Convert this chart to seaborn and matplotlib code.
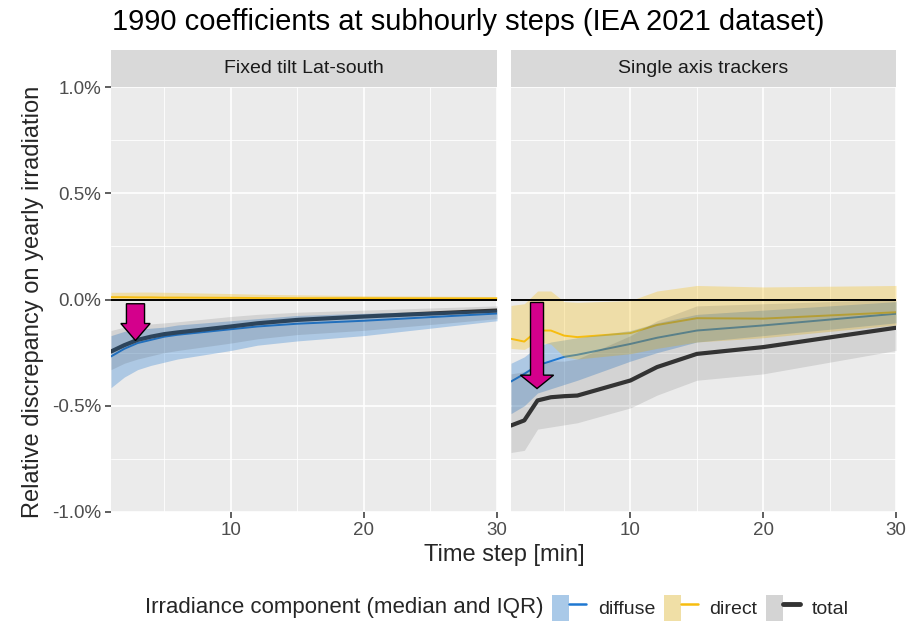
import numpy as np
import pandas as pd
import seaborn as sns
import matplotlib.pyplot as plt
from matplotlib.patches import Patch, FancyArrow
from matplotlib.lines import Line2D
from matplotlib.legend_handler import HandlerTuple

# time steps [min]
steps = [1, 2, 3, 4, 5, 6, 10, 12, 15, 20, 30]

# Fixed tilt Lat-south (values in %)
fix_diffuse = [-0.268, -0.232, -0.205, -0.19, -0.175, -0.166, -0.14, -0.127, -0.114, -0.1, -0.066]
fix_diffuse_lo = [-0.415, -0.365, -0.33, -0.31, -0.295, -0.28, -0.24, -0.215, -0.195, -0.17, -0.10]
fix_diffuse_hi = [-0.17, -0.15, -0.14, -0.135, -0.13, -0.12, -0.10, -0.09, -0.075, -0.065, -0.047]
fix_direct = [0.011, 0.011, 0.010, 0.010, 0.009, 0.009, 0.008, 0.007, 0.006, 0.006, 0.005]
fix_direct_lo = [-0.004, -0.004, -0.004, -0.004, -0.004, -0.004, -0.003, -0.003, -0.003, -0.003, -0.002]
fix_direct_hi = [0.034, 0.034, 0.035, 0.035, 0.034, 0.033, 0.028, 0.025, 0.022, 0.018, 0.014]
fix_total = [-0.245, -0.215, -0.19, -0.175, -0.163, -0.155, -0.127, -0.112, -0.096, -0.08, -0.052]
fix_total_lo = [-0.33, -0.30, -0.28, -0.265, -0.25, -0.24, -0.205, -0.185, -0.165, -0.145, -0.09]
fix_total_hi = [-0.146, -0.13, -0.12, -0.115, -0.11, -0.105, -0.08, -0.07, -0.06, -0.05, -0.03]

# Single axis trackers (values in %)
trk_diffuse = [-0.386, -0.35, -0.31, -0.29, -0.27, -0.26, -0.209, -0.18, -0.146, -0.122, -0.067]
trk_diffuse_lo = [-0.537, -0.50, -0.44, -0.42, -0.40, -0.38, -0.29, -0.25, -0.20, -0.17, -0.11]
trk_diffuse_hi = [-0.30, -0.27, -0.22, -0.20, -0.19, -0.18, -0.146, -0.11, -0.07, -0.05, -0.01]
trk_direct = [-0.185, -0.198, -0.146, -0.146, -0.17, -0.177, -0.158, -0.12, -0.088, -0.09, -0.06]
trk_direct_lo = [-0.23, -0.235, -0.2, -0.21, -0.27, -0.28, -0.255, -0.23, -0.2, -0.18, -0.12]
trk_direct_hi = [-0.028, -0.02, 0.04, 0.04, -0.01, -0.013, -0.005, 0.04, 0.066, 0.059, 0.066]
trk_total = [-0.593, -0.569, -0.475, -0.46, -0.455, -0.452, -0.381, -0.318, -0.256, -0.224, -0.133]
trk_total_lo = [-0.72, -0.71, -0.61, -0.60, -0.59, -0.58, -0.51, -0.45, -0.38, -0.35, -0.24]
trk_total_hi = [-0.35, -0.34, -0.30, -0.29, -0.29, -0.28, -0.17, -0.10, -0.03, -0.02, 0.0]

facets = ["Fixed tilt Lat-south", "Single axis trackers"]
components = ["diffuse", "direct", "total"]

rows = []
series = {
    facets[0]: {"diffuse": (fix_diffuse, fix_diffuse_lo, fix_diffuse_hi),
                "direct": (fix_direct, fix_direct_lo, fix_direct_hi),
                "total": (fix_total, fix_total_lo, fix_total_hi)},
    facets[1]: {"diffuse": (trk_diffuse, trk_diffuse_lo, trk_diffuse_hi),
                "direct": (trk_direct, trk_direct_lo, trk_direct_hi),
                "total": (trk_total, trk_total_lo, trk_total_hi)},
}
for f in facets:
    for c in components:
        med, lo, hi = series[f][c]
        for t, m, l, h in zip(steps, med, lo, hi):
            rows.append({"facet": f, "component": c, "step": t, "med": m, "lo": l, "hi": h})
df = pd.DataFrame(rows)

# ribbons use the line colour with transparency
line_col = {"diffuse": "#1F78D1", "direct": "#F7BD0F", "total": "#333333"}
fill_alpha = {"diffuse": 0.3, "direct": 0.3, "total": 0.13}
line_w = {"diffuse": 1.4, "direct": 1.4, "total": 3.0}
key_col = {"diffuse": "#A9C9E8", "direct": "#F0DFA6", "total": "#D4D4D4"}

sns.set_theme(style="darkgrid")
plt.rcParams["font.family"] = ["Liberation Sans", "DejaVu Sans"]

W, H = 924, 622
fig = plt.figure(figsize=(W / 100, H / 100), dpi=100)
fig.patch.set_facecolor("white")

panels = [(111, 497), (511, 896)]
top, bottom = 87, 512
arrows = [(2.84, -0.02, -0.193, 1.36, 2.2, 0.08), (2.96, -0.014, -0.419, 0.98, 2.5, 0.063)]

for i, f in enumerate(facets):
    x0, x1 = panels[i]
    ax = fig.add_axes([x0 / W, (H - bottom) / H, (x1 - x0) / W, (bottom - top) / H])
    ax.set_facecolor("#EBEBEB")
    sub = df[df.facet == f]
    # medians first, ribbons drawn over them
    for c in components:
        d = sub[sub.component == c]
        sns.lineplot(data=d, x="step", y="med", ax=ax, color=line_col[c], lw=line_w[c],
                     legend=False, zorder=2)
    for c in components:
        d = sub[sub.component == c]
        ax.fill_between(d.step, d.lo, d.hi, color=line_col[c], alpha=fill_alpha[c], lw=0, zorder=3)
    ax.axhline(0, color="black", lw=1.4, zorder=4)
    xa, ytop, ytip, bw, hw, hl = arrows[i]
    ax.add_patch(FancyArrow(xa, ytop, 0, ytip - ytop, width=bw, head_width=hw, head_length=hl,
                            length_includes_head=True, fc="#D4008C", ec="black", lw=1, zorder=6))
    ax.set_xlim(1, 30)
    ax.set_ylim(-1.0, 1.0)
    ax.set_xticks([10, 20, 30])
    ax.set_xticks([5, 15, 25], minor=True)
    ax.set_yticks([-1.0, -0.5, 0.0, 0.5, 1.0])
    ax.set_yticks([-0.75, -0.25, 0.25, 0.75], minor=True)
    ax.grid(which="major", color="white", lw=1.2)
    ax.grid(which="minor", color="white", lw=0.6)
    ax.set_axisbelow(True)
    for s in ax.spines.values():
        s.set_visible(False)
    ax.tick_params(axis="both", which="major", length=4.5, width=1.1, color="#333333",
                   labelsize=13.5, labelcolor="#4D4D4D", pad=2.5, bottom=True)
    ax.tick_params(axis="y", left=(i == 0), labelleft=(i == 0))
    ax.tick_params(which="minor", length=0)
    if i == 0:
        ax.set_yticklabels(["-1.0%", "-0.5%", "0.0%", "0.5%", "1.0%"])
    ax.set_xlabel("")
    ax.set_ylabel("")

    # facet strip
    sax = fig.add_axes([x0 / W, (H - top) / H, (x1 - x0) / W, 37 / H])
    sax.set_facecolor("#D9D9D9")
    sax.set_xticks([])
    sax.set_yticks([])
    for s in sax.spines.values():
        s.set_visible(False)
    sax.text(0.5, 0.5, f, ha="center", va="center", fontsize=14, color="#1A1A1A",
             transform=sax.transAxes)

fig.text(112 / W, 1 - 22 / H, "1990 coefficients at subhourly steps (IEA 2021 dataset)",
         fontsize=21, ha="left", va="center", color="black")
fig.text(504 / W, 1 - 555 / H, "Time step [min]", fontsize=17, ha="center", va="center")
fig.text(33 / W, 1 - 302 / H, "Relative discrepancy on yearly irradiation", fontsize=17,
         rotation=90, ha="center", va="center")

# legend
fig.text(145 / W, 1 - 608 / H, "Irradiance component (median and IQR)", fontsize=16,
         ha="left", va="center")
handles = []
for c in components:
    handles.append((Patch(facecolor=key_col[c], edgecolor="none"),
                    Line2D([], [], color=line_col[c], lw=1.8 if c != "total" else 3.5)))
leg = fig.legend(handles, components, loc="center left", bbox_to_anchor=(552 / W, 1 - 608 / H),
                 ncol=3, frameon=False, fontsize=14, handlelength=1.75, handleheight=1.75,
                 handletextpad=0.6, columnspacing=0.45, borderpad=0, borderaxespad=0,
                 handler_map={tuple: HandlerTuple(ndivide=None, pad=0)})

fig.savefig("out.png", dpi=100)
